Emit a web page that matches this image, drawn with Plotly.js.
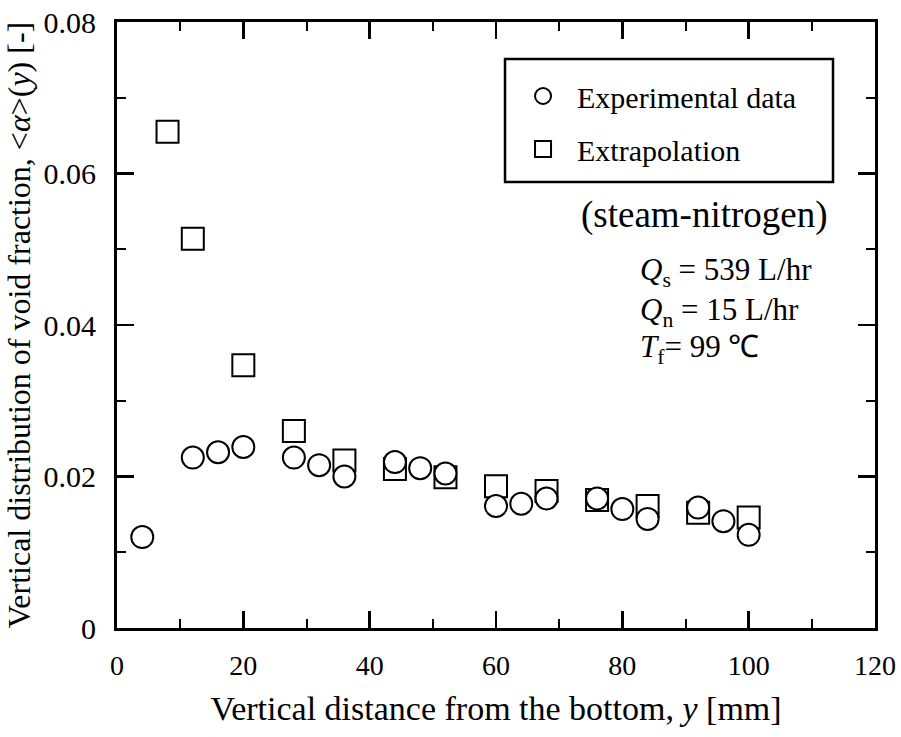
<!DOCTYPE html>
<html><head><meta charset="utf-8">
<script src="https://cdn.plot.ly/plotly-3.0.1.min.js"></script>
<style>html,body{margin:0;padding:0;background:#fff}</style>
</head><body><div id="chart" style="width:901px;height:737px"></div>
<script>
// Experimental data (circles)
const expX = [4, 12, 16, 20, 28, 32, 36, 44, 48, 52, 60, 64, 68, 76, 80, 84, 92, 96, 100];
const expY = [0.0120, 0.0225, 0.0232, 0.0239, 0.0225, 0.0215, 0.0200, 0.0219, 0.0211, 0.0204,
              0.0161, 0.0164, 0.0171, 0.0171, 0.0157, 0.0144, 0.0159, 0.0141, 0.0123];
// Extrapolation (squares)
const extX = [8, 12, 20, 28, 36, 44, 52, 60, 68, 76, 84, 92, 100];
const extY = [0.0655, 0.0514, 0.0347, 0.0260, 0.0221, 0.0210, 0.0199, 0.0187, 0.0181,
              0.0169, 0.0161, 0.0152, 0.0146];
const seriesNames = ['Experimental data', 'Extrapolation'];
const xTickVals = [0, 20, 40, 60, 80, 100, 120];
const yTickVals = [0, 0.02, 0.04, 0.06, 0.08];
const yTickText = ['0', '0.02', '0.04', '0.06', '0.08'];

const FONT = 'Liberation Serif, Times New Roman, serif';

const traces = [
  {
    x: extX, y: extY, type: 'scatter', mode: 'markers', name: seriesNames[1],
    legendrank: 2, legendgroup: 'b',
    marker: {symbol: 'square', size: 22, color: '#fff', line: {color: '#000', width: 2}},
    cliponaxis: false
  },
  {
    x: expX, y: expY, type: 'scatter', mode: 'markers', name: seriesNames[0],
    legendrank: 1, legendgroup: 'a',
    marker: {symbol: 'circle', size: 22, color: '#fff', line: {color: '#000', width: 2}},
    cliponaxis: false
  }
];

const axisCommon = {
  showline: true, linecolor: '#000', linewidth: 3, mirror: 'ticks',
  ticks: 'inside', ticklen: 17, tickwidth: 2.5, tickcolor: '#000',
  showgrid: false, zeroline: false
};

const layout = {
  width: 901, height: 737,
  paper_bgcolor: '#fff', plot_bgcolor: '#fff',
  margin: {l: 117, r: 26, t: 22, b: 109},
  showlegend: true,
  font: {family: FONT, color: '#000'},
  xaxis: Object.assign({}, axisCommon, {
    range: [0, 120], tickvals: xTickVals, ticklabelstandoff: 10,
    tickfont: {family: FONT, size: 28, color: '#000'},
    minor: {dtick: 10, ticks: 'inside', ticklen: 9, tickwidth: 2, tickcolor: '#000'},
    title: {text: 'Vertical distance from the bottom, <i>y</i> [mm]', font: {family: FONT, size: 34, color: '#000'}, standoff: 17}
  }),
  yaxis: Object.assign({}, axisCommon, {
    range: [0, 0.08], tickvals: yTickVals, ticktext: yTickText, ticklabelstandoff: 12,
    tickfont: {family: FONT, size: 30, color: '#000'},
    minor: {dtick: 0.01, ticks: 'inside', ticklen: 9, tickwidth: 2, tickcolor: '#000'},
    title: {text: 'Vertical distribution of void fraction, &lt;<i>α</i>&gt;(<i>y</i>) [-]', font: {family: FONT, size: 32, color: '#000'}, standoff: 4}
  }),
  legend: {
    x: 0.5172, y: 0.9208, xanchor: 'left', yanchor: 'top',
    bgcolor: 'rgba(0,0,0,0)', borderwidth: 0,
    font: {family: FONT, size: 30, color: '#000'},
    tracegroupgap: 11, itemwidth: 58
  },
  shapes: [
    {type: 'rect', xref: 'paper', yref: 'paper', x0: 0.5119, x1: 0.9446, y0: 0.736, y1: 0.9389,
     line: {color: '#000', width: 2.5}, fillcolor: 'rgba(0,0,0,0)', layer: 'above'}
  ],
  annotations: [
    {xref: 'x', yref: 'y', x: 73.1, y: 0.0545, xanchor: 'left', yanchor: 'middle', showarrow: false,
     text: '(steam-nitrogen)', font: {family: FONT, size: 37, color: '#000'}},
    {xref: 'x', yref: 'y', x: 82.5, y: 0.0470, xanchor: 'left', yanchor: 'middle', showarrow: false,
     text: '<i>Q</i><sub>s</sub> = 539 L/hr', font: {family: FONT, size: 31, color: '#000'}},
    {xref: 'x', yref: 'y', x: 82.5, y: 0.0417, xanchor: 'left', yanchor: 'middle', showarrow: false,
     text: '<i>Q</i><sub>n</sub> = 15 L/hr', font: {family: FONT, size: 31, color: '#000'}},
    {xref: 'x', yref: 'y', x: 82.5, y: 0.0368, xanchor: 'left', yanchor: 'middle', showarrow: false,
     text: '<i>T</i><sub>f</sub>= 99 ℃', font: {family: FONT, size: 31, color: '#000'}}
  ]
};

Plotly.newPlot('chart', traces, layout, {staticPlot: true, displayModeBar: false});
</script>
</body></html>
